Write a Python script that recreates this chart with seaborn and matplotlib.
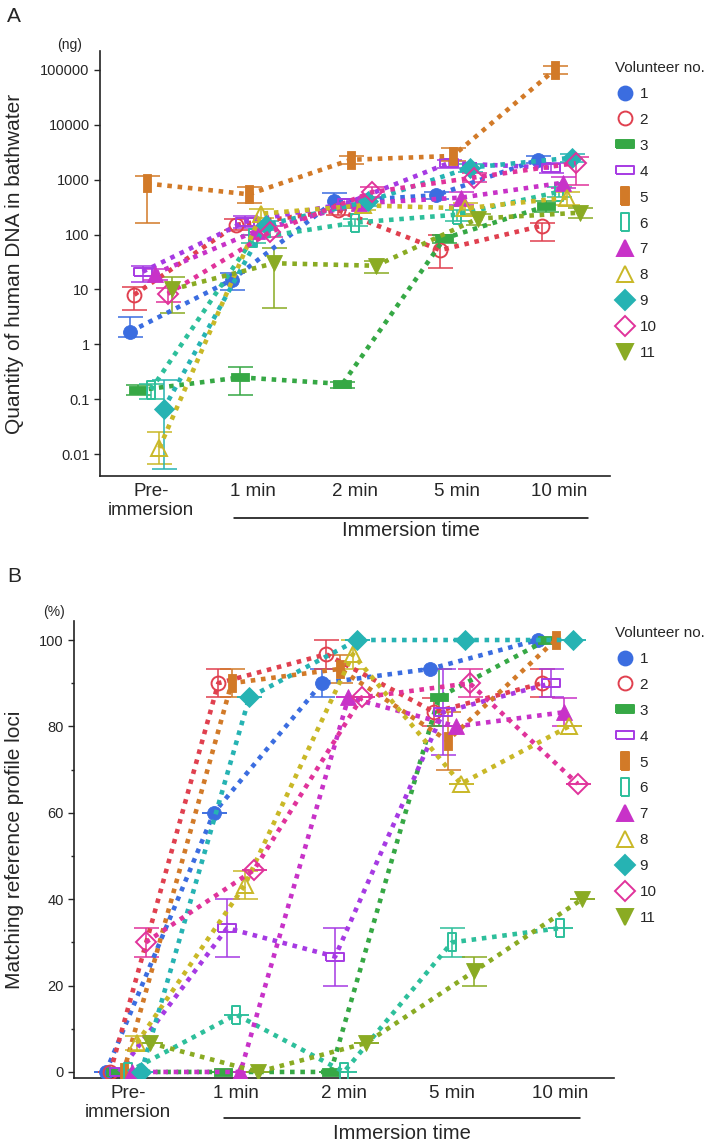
import numpy as np
import pandas as pd
import matplotlib
matplotlib.use("Agg")
import matplotlib.pyplot as plt
from matplotlib.lines import Line2D
from matplotlib.ticker import FixedLocator, NullLocator, MultipleLocator
import seaborn as sns

# %% data
times = ['Pre-\nimmersion', '1 min', '2 min', '5 min', '10 min']
volunteers = ['1', '2', '3', '4', '5', '6', '7', '8', '9', '10', '11']

# A: quantity of human DNA (ng), one row per volunteer
dna_mean = [
    [1.7, 15, 400, 520, 2300],
    [8, 150, 275, 52, 145],
    [0.146, 0.25, 0.19, 85, 330],
    [21, 170, 370, 2000, 1650],
    [850, 540, 2300, 2700, 100000],
    [0.15, 85, 165, 230, 600],
    [19.5, 118, 370, 470, 880],
    [0.013, 240, 340, 300, 470],
    [0.066, 150, 400, 1650, 2500],
    [8.3, 110, 590, 1090, 2000],
    [10, 30, 27, 195, 250],
]
dna_low = [
    [1.35, 9.6, 280, 450, 2000],
    [4.3, 120, 230, 25, 75],
    [0.12, 0.12, 0.16, 70, 260],
    [13.4, 134, 300, 1600, 1300],
    [165, 380, 1900, 2200, 85000],
    [0.1, 70, 140, 180, 480],
    [15, 100, 300, 350, 700],
    [0.0066, 200, 280, 220, 350],
    [0.0053, 120, 330, 1400, 2100],
    [6, 90, 480, 900, 800],
    [3.8, 4.5, 20, 150, 200],
]
dna_high = [
    [3.2, 19.6, 580, 600, 2700],
    [11.3, 190, 330, 100, 165],
    [0.18, 0.38, 0.21, 100, 400],
    [27, 213, 450, 2300, 2000],
    [1180, 745, 2700, 3700, 115000],
    [0.19, 100, 190, 280, 720],
    [24, 140, 440, 600, 1100],
    [0.025, 290, 400, 380, 600],
    [0.22, 180, 470, 1900, 2900],
    [10.5, 140, 720, 1300, 2600],
    [16.5, 58, 33, 240, 300],
]

# B: matching reference profile loci (%)
loci_mean = [
    [0, 60, 90, 93.3, 100],
    [0, 90, 96.7, 83.3, 90],
    [0, 0, 0, 86.7, 100],
    [0, 33.3, 26.7, 83.3, 90],
    [0, 90, 93.3, 76.7, 100],
    [0, 13.3, 0, 30, 33.3],
    [0, 0, 86.7, 80, 83.3],
    [6.7, 43.3, 96.7, 66.7, 80],
    [0, 86.7, 100, 100, 100],
    [30, 46.7, 86.7, 90, 66.7],
    [6.7, 0, 6.7, 23.3, 40],
]
loci_err = [
    [0, 0, 3.3, 0, 0],
    [0, 3.3, 3.3, 3.3, 3.3],
    [0, 0, 0, 6.7, 0],
    [0, 6.7, 6.7, 10, 3.3],
    [0, 3.3, 3.3, 6.7, 0],
    [0, 0, 0, 3.3, 0],
    [0, 0, 0, 0, 3.3],
    [1.7, 3.3, 3.3, 0, 0],
    [0, 0, 0, 0, 0],
    [3.3, 0, 0, 3.3, 0],
    [0, 0, 0, 3.3, 0],
]

dna_ticks = [0.01, 0.1, 1, 10, 100, 1000, 10000, 100000]
dna_ticklabels = ['0.01', '0.1', '1', '10', '100', '1000', '10000', '100000']

# %% styles
colors = ['#3b6de0', '#e0404f', '#36a845', '#a63ae3', '#d27a28', '#2dbf9b',
          '#c832c8', '#c9b827', '#26b3b3', '#e0339b', '#8aab23']
wide = [(-1, -.45), (1, -.45), (1, .45), (-1, .45), (-1, -.45)]
tall = [(-.45, -1), (.45, -1), (.45, 1), (-.45, 1), (-.45, -1)]
markers = ['o', 'o', wide, wide, tall, tall, '^', '^', 'D', 'D', 'v']
filled = [True, False, True, False, True, False, True, False, True, False, True]
msizes = [10, 10, 13, 13, 13, 13, 11.5, 11.5, 10, 10, 11.5]
dodge = 0.041

sns.set_style('ticks')
plt.rcParams['font.family'] = ['Liberation Sans', 'DejaVu Sans']

fig = plt.figure(figsize=(7.11, 11.44), dpi=100)
ax_a = fig.add_axes([100/711, 1-476/1144, 510/711, 425/1144])
ax_b = fig.add_axes([74/711, 1-1078/1144, 540/711, 457/1144])


def draw_panel(ax, means, lows, highs):
    for i, vol in enumerate(volunteers):
        c = colors[i]
        x = np.arange(len(times)) + (i - 5) * dodge
        y = np.array(means[i], dtype=float)
        lo = y - np.array(lows[i], dtype=float)
        hi = np.array(highs[i], dtype=float) - y
        ax.errorbar(x, y, yerr=[lo, hi], fmt='none', ecolor=c, elinewidth=1.3,
                    capsize=9, capthick=1.3, alpha=0.85, zorder=2)
        df = pd.DataFrame({'x': x, 'y': y})
        sns.lineplot(data=df, x='x', y='y', ax=ax, color=c, marker=markers[i],
                     markersize=msizes[i],
                     markerfacecolor=c if filled[i] else 'none',
                     markeredgecolor=c, markeredgewidth=1.4 if not filled[i] else 0.6,
                     linewidth=3.3, linestyle=(0, (1, 1.25)), dash_capstyle='butt',
                     estimator=None, sort=False, errorbar=None, legend=False, zorder=3)


def style_panel(ax, line_x, line_y, text_y):
    ax.set_xlim(-0.5, 4.5)
    ax.set_xticks(range(len(times)))
    ax.set_xticklabels(times, fontsize=13.5, linespacing=1.15)
    ax.tick_params(axis='x', length=0, pad=5)
    ax.tick_params(axis='y', labelsize=10.5, length=4, width=1, direction='out')
    ax.set_xlabel('')
    ax.set_ylabel('')
    for s in ['top', 'right']:
        ax.spines[s].set_visible(False)
    for s in ['left', 'bottom']:
        ax.spines[s].set_linewidth(1.2)
        ax.spines[s].set_color('#222222')
    ax.plot(line_x, [line_y, line_y], transform=ax.transAxes, color='black',
            lw=1.1, clip_on=False)
    ax.text(np.mean(line_x), text_y, 'Immersion time', transform=ax.transAxes,
            ha='center', va='center', fontsize=14.5)
    handles = [Line2D([], [], linestyle='none', marker=markers[i], markersize=msizes[i],
                      markerfacecolor=colors[i] if filled[i] else 'none',
                      markeredgecolor=colors[i], markeredgewidth=1.4)
               for i in range(len(volunteers))]
    return handles


# %% panel A
ax_a.set_yscale('log')
draw_panel(ax_a, dna_mean, dna_low, dna_high)
ax_a.set_ylim(0.004, 2.2e5)
ax_a.yaxis.set_major_locator(FixedLocator(dna_ticks))
ax_a.set_yticklabels(dna_ticklabels)
ax_a.yaxis.set_minor_locator(NullLocator())
h = style_panel(ax_a, [0.263, 0.957], -0.099, -0.128)
ax_a.legend(h, volunteers, title='Volunteer no.', loc='upper left',
            bbox_to_anchor=(615/711, 1-61/1144), bbox_transform=fig.transFigure,
            frameon=False, fontsize=11, title_fontsize=11, alignment='left',
            handlelength=1.3, handletextpad=0.3, labelspacing=0.78,
            borderpad=0, borderaxespad=0)

# %% panel B
loci_low = [[m - e for m, e in zip(mr, er)] for mr, er in zip(loci_mean, loci_err)]
loci_high = [[m + e for m, e in zip(mr, er)] for mr, er in zip(loci_mean, loci_err)]
draw_panel(ax_b, loci_mean, loci_low, loci_high)
ax_b.set_ylim(-1.4, 104.4)
ax_b.yaxis.set_major_locator(MultipleLocator(20))
ax_b.yaxis.set_minor_locator(MultipleLocator(10))
ax_b.tick_params(axis='y', which='minor', length=2.5, width=1)
h = style_panel(ax_b, [0.278, 0.937], -0.087, -0.121)
ax_b.legend(h, volunteers, title='Volunteer no.', loc='upper left',
            bbox_to_anchor=(615/711, 1-626/1144), bbox_transform=fig.transFigure,
            frameon=False, fontsize=11, title_fontsize=11, alignment='left',
            handlelength=1.3, handletextpad=0.3, labelspacing=0.78,
            borderpad=0, borderaxespad=0)

# %% labels
fig.text(14/711, 1-16/1144, 'A', fontsize=15, ha='center', va='center')
fig.text(14/711, 1-577/1144, 'B', fontsize=15, ha='center', va='center')
fig.text(70/711, 1-45/1144, '(ng)', fontsize=10, ha='center', va='center')
fig.text(54/711, 1-612/1144, '(%)', fontsize=10, ha='center', va='center')
fig.text(15/711, 1-264/1144, 'Quantity of human DNA in bathwater', fontsize=15,
         rotation=90, ha='center', va='center')
fig.text(15/711, 1-850/1144, 'Matching reference profile loci', fontsize=15,
         rotation=90, ha='center', va='center')

fig.savefig('out.png', dpi=100)
